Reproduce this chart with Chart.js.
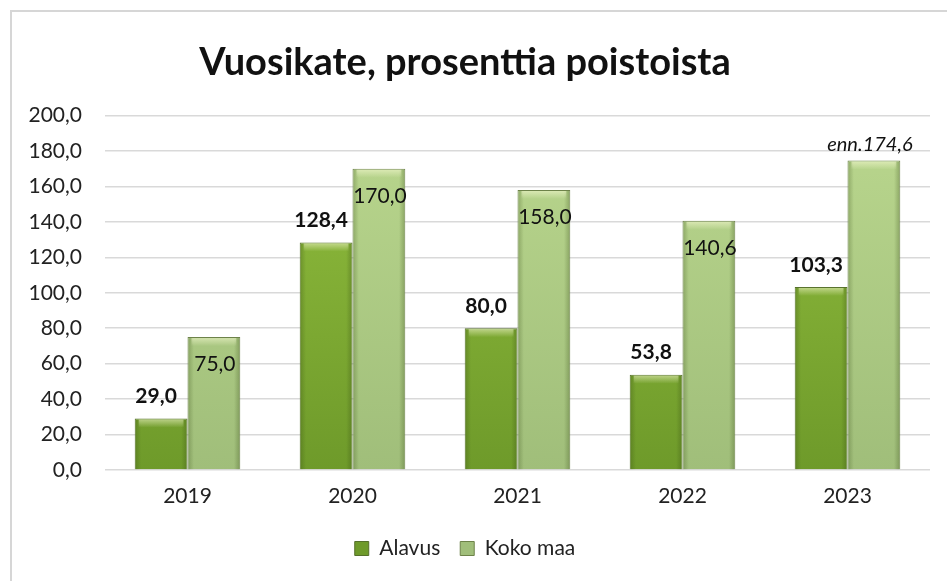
<!DOCTYPE html>
<html>
<head>
<meta charset="utf-8">
<script src="https://cdn.jsdelivr.net/npm/chart.js@4/dist/chart.umd.min.js"></script>
<style>
  html, body { margin: 0; padding: 0; background: #fff; overflow: hidden; }
  #frame {
    position: absolute; left: 10px; top: 10px; width: 960px; height: 600px;
    border: 2px solid #d6d6d6; box-sizing: border-box;
  }
  #wrap { position: absolute; left: 0; top: 0; width: 947px; height: 581px; }
</style>
</head>
<body>
<div id="frame"></div>
<div id="wrap"><canvas id="chart" width="947" height="581"></canvas></div>
<script>
// Data
const years = ['2019', '2020', '2021', '2022', '2023'];
const alavus = [29.0, 128.4, 80.0, 53.8, 103.3];
const kokoMaa = [75.0, 170.0, 158.0, 140.6, 174.6];
const kokoMaaPrefix = ['', '', '', '', 'enn.'];
const yTicks = [0, 20, 40, 60, 80, 100, 120, 140, 160, 180, 200];

const FONT = 'Lato, "Noto Sans", sans-serif';

const fmt = v => v.toFixed(1).replace('.', ',');

function vGradient(ctx, top, bottom) {
  const area = ctx.chart.chartArea;
  if (!area) return bottom;
  const g = ctx.chart.ctx.createLinearGradient(0, area.top, 0, area.bottom);
  g.addColorStop(0, top);
  g.addColorStop(1, bottom);
  return g;
}

// Soft bevel on each bar: darker sides, light strip on top
const bevel = {
  id: 'bevel',
  afterDatasetsDraw(chart) {
    const c = chart.ctx;
    c.save();
    chart.data.datasets.forEach((ds, di) => {
      chart.getDatasetMeta(di).data.forEach(bar => {
        const left = bar.x - bar.width / 2;
        const h = bar.base - bar.y;
        const g = c.createLinearGradient(left, 0, left + bar.width, 0);
        g.addColorStop(0, 'rgba(40,60,10,0.28)');
        g.addColorStop(0.12, 'rgba(40,60,10,0)');
        g.addColorStop(0.88, 'rgba(40,60,10,0)');
        g.addColorStop(1, 'rgba(40,60,10,0.30)');
        c.fillStyle = g;
        c.fillRect(left + 1, bar.y + 1, bar.width - 2, h - 1);
        const t = c.createLinearGradient(0, bar.y, 0, bar.y + 9);
        t.addColorStop(0, 'rgba(255,255,220,0.55)');
        t.addColorStop(1, 'rgba(255,255,220,0)');
        c.fillStyle = t;
        c.fillRect(left + 4, bar.y + 1, bar.width - 8, 8);
      });
    });
    c.restore();
  }
};

// Value labels: bold above Alavus bars, inside top of Koko maa bars
const valueLabels = {
  id: 'valueLabels',
  afterDatasetsDraw(chart) {
    const c = chart.ctx;
    c.save();
    c.textAlign = 'center';
    c.textBaseline = 'middle';
    c.fillStyle = '#111';
    chart.getDatasetMeta(0).data.forEach((bar, i) => {
      c.font = 'bold 21px ' + FONT;
      c.fillText(fmt(alavus[i]), bar.x - 5, bar.y - 22);
    });
    chart.getDatasetMeta(1).data.forEach((bar, i) => {
      if (kokoMaaPrefix[i]) {
        c.font = 'italic 20px ' + FONT;
        c.fillText(kokoMaaPrefix[i] + fmt(kokoMaa[i]), bar.x - 4, bar.y - 16);
      } else {
        c.font = '21px ' + FONT;
        c.fillText(fmt(kokoMaa[i]), bar.x + 1, bar.y + 27);
      }
    });
    c.restore();
  }
};

new Chart(document.getElementById('chart'), {
  type: 'bar',
  data: {
    labels: years,
    datasets: [
      {
        label: 'Alavus',
        data: alavus,
        backgroundColor: ctx => vGradient(ctx, '#93bf3f', '#6e9a2a'),
        borderColor: '#55702a',
        borderWidth: 1,
        borderSkipped: 'bottom',
        categoryPercentage: 0.64,
        barPercentage: 1
      },
      {
        label: 'Koko maa',
        data: kokoMaa,
        backgroundColor: ctx => vGradient(ctx, '#bad78e', '#a0be7a'),
        borderColor: '#6d8249',
        borderWidth: 1,
        borderSkipped: 'bottom',
        categoryPercentage: 0.64,
        barPercentage: 1
      }
    ]
  },
  options: {
    responsive: false,
    animation: false,
    layout: { padding: { left: 0, right: 17, top: 0, bottom: 12 } },
    plugins: {
      title: {
        display: true,
        text: 'Vuosikate, prosenttia poistoista',
        color: '#111',
        font: { family: FONT, size: 38, weight: 'bold' },
        padding: { top: 40, bottom: 30 }
      },
      legend: {
        position: 'bottom',
        labels: {
          color: '#222',
          font: { family: FONT, size: 21 },
          boxWidth: 14,
          boxHeight: 14,
          padding: 20
        }
      },
      tooltip: { enabled: false }
    },
    scales: {
      x: {
        afterFit: scale => { scale.height = 48; },
        grid: { display: false },
        border: { display: false },
        ticks: { color: '#222', font: { family: FONT, size: 21 }, padding: 6 }
      },
      y: {
        min: 0,
        max: 200,
        afterBuildTicks: scale => { scale.ticks = yTicks.map(v => ({ value: v })); },
        afterFit: scale => { scale.width = 105; },
        grid: { color: '#d9d9d9', lineWidth: 1.5, drawTicks: false },
        border: { display: false },
        ticks: {
          color: '#222',
          font: { family: FONT, size: 21 },
          padding: 23,
          callback: v => fmt(v)
        }
      }
    }
  },
  plugins: [bevel, valueLabels]
});
</script>
</body>
</html>
